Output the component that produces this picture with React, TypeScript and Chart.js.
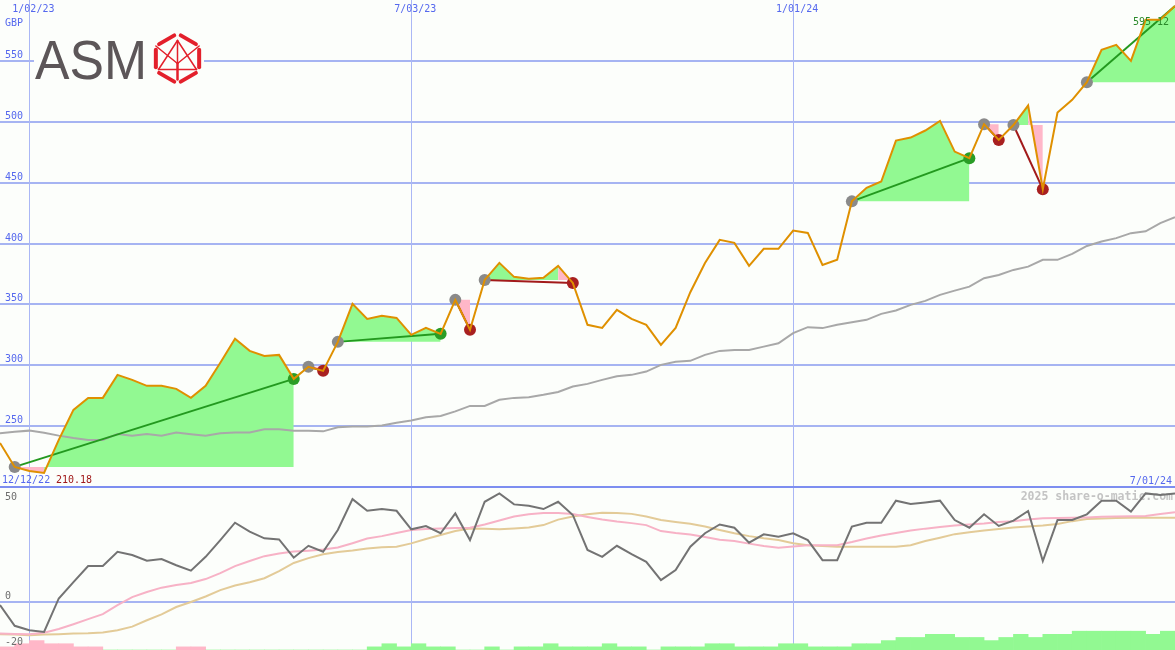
import React, { useEffect, useRef } from 'react';
import { Chart, registerables } from 'chart.js';

Chart.register(...registerables);

// ---------------- data ----------------
const closes = [
  236.2, 216.5, 213.2, 211.6, 238.7, 263.3, 273.2, 273.2, 292.1, 288.0,
  283.1, 283.1, 280.6, 273.2, 283.1, 302.0, 321.7, 311.8, 307.7, 308.5,
  288.8, 298.7, 295.4, 319.2, 350.4, 338.1, 340.6, 338.9, 325.0, 330.7,
  325.8, 353.7, 329.1, 370.1, 384.1, 372.6, 371.0, 371.8, 381.6, 367.6,
  333.2, 330.7, 345.5, 338.1, 333.2, 316.7, 330.7, 360.0, 384.0, 403.0,
  400.5, 381.6, 395.6, 395.6, 410.6, 408.7, 382.4, 386.6, 434.6, 445.7,
  450.9, 484.5, 487.0, 492.8, 500.7, 475.5, 470.1, 498.0, 485.1, 497.3,
  513.3, 444.6, 507.5, 518.0, 532.5, 559.0, 563.1, 550.0, 583.7, 583.7, 595.1,
];

const movingAvg = [
  244.2, 245.3, 246.3, 244.5, 242.2, 240.3, 238.7, 238.7, 243.6, 242.2,
  243.6, 242.2, 244.7, 243.4, 242.2, 244.2, 244.7, 244.7, 247.5, 247.5,
  246.3, 246.3, 245.7, 249.0, 249.6, 249.6, 250.6, 252.7, 254.6, 257.2,
  258.4, 262.1, 266.6, 266.6, 271.6, 273.2, 273.8, 275.7, 278.1, 282.5,
  284.7, 288.0, 290.9, 292.1, 294.8, 300.3, 302.8, 303.6, 308.5, 311.8,
  312.6, 312.6, 315.3, 318.1, 326.4, 331.3, 330.5, 333.2, 335.4, 337.3,
  342.2, 345.0, 349.6, 352.9, 357.8, 361.3, 364.6, 371.5, 374.2, 378.3,
  381.0, 386.6, 386.6, 391.5, 398.0, 401.6, 404.4, 408.5, 410.0, 416.7, 421.6,
];

const oscillator = [
  -1.6, -11, -13, -13.8, 1.4, 8.8, 16.1, 16.1, 22.6, 21.1,
  18.5, 19.3, 16.5, 14, 20.3, 27.9, 35.8, 31.7, 28.7, 28.2,
  19.9, 25.3, 22.6, 32.5, 46.5, 41.2, 42, 41.2, 32.8, 34.3,
  31, 40, 27.9, 45.3, 49.1, 44.1, 43.5, 42, 45.3, 39.3,
  23.4, 20.3, 25.3, 21.5, 18, 9.7, 14.3, 24.9, 31, 35,
  33.5, 26.7, 30.5, 29.4, 31, 27.9, 18.8, 18.8, 34, 35.8,
  35.8, 45.8, 44.3, 45, 45.8, 37, 33.5, 39.6, 34.3, 36.7,
  41.1, 18.4, 37, 37, 39.6, 45.8, 45.8, 40.8, 49.1, 48.4, 49.1,
];

const oscAvgFast = [
  -14.5, -14.7, -14.8, -14.2, -12.5, -10.3, -8, -5.7, -1.6, 2,
  4.3, 6.3, 7.5, 8.4, 10.2, 12.9, 16.1, 18.4, 20.6, 21.8,
  22.7, 23.1, 23.6, 24.5, 26.5, 28.6, 29.7, 31.1, 32.5, 32.9,
  33.2, 33.4, 33.5, 35, 36.8, 38.6, 39.6, 40.2, 40.2, 39.7,
  38.4, 37.2, 36.3, 35.6, 34.7, 32, 31.1, 30.4, 29.3, 28.1,
  27.5, 26.3, 25.2, 24.4, 25, 25.6, 25.6, 25.6, 27, 28.6,
  30, 31.1, 32.2, 33.1, 33.8, 34.5, 35, 35.4, 36.1, 36.5,
  37.2, 37.8, 37.9, 38, 38.2, 38.5, 38.6, 38.7, 38.8, 39.7, 40.5,
];

const oscAvgSlow = [
  -14.8, -15, -15.3, -15, -14.8, -14.5, -14.4, -14.1, -13, -11.4,
  -8.5, -5.8, -2.5, -0.2, 2.3, 5.2, 7.3, 8.8, 10.6, 13.8,
  17.5, 19.7, 21.5, 22.5, 23.2, 24.1, 24.6, 24.9, 26.4, 28.4,
  30.2, 32, 33.2, 33, 32.8, 33.2, 33.6, 34.7, 37.2, 38.6,
  39.6, 40.3, 40.2, 39.8, 38.6, 37, 36.1, 35.3, 34.1, 32.5,
  31, 29.7, 28.7, 27.9, 26.5, 25.6, 25.2, 24.9, 24.9, 24.9,
  24.9, 24.9, 25.6, 27.5, 29, 30.6, 31.5, 32.2, 32.9, 33.6,
  34.1, 34.5, 35.2, 36.5, 37.5, 37.7, 37.9, 38, 38, 38, 38,
];

// weekly histogram (negative = pink, positive = green)
const histogram = [
  -1, -2, -3, -2, -2, -1, -1, 0, 0, 0,
  0, 0, -1, -1, 0, 0, 0, 0, 0, 0,
  0, 0, 0, 0, 0, 1, 2, 1, 2, 1,
  1, 0, 0, 1, 0, 1, 1, 2, 1, 1,
  1, 2, 1, 1, 0, 1, 1, 1, 2, 2,
  1, 1, 1, 2, 2, 1, 1, 1, 2, 2,
  3, 4, 4, 5, 5, 4, 4, 3, 4, 5,
  4, 5, 5, 6, 6, 6, 6, 6, 5, 6,
];

const tradeStarts = [1, 21, 23, 31, 33, 58, 67, 69, 74];
const tradeEnds = [20, 22, 30, 32, 39, 66, 68, 71, 80];
const tradeOpen = [false, false, false, false, false, false, false, false, true];

const xTickIndex = [2, 28, 54];
const xTickLabels = ['1/02/23', '7/03/23', '1/01/24'];
const priceTicks = [250, 300, 350, 400, 450, 500, 550];
const oscTicks = [50, 0, -20];
const oscGridValues = [0];
const currencyLabel = 'GBP';
const lowDateLabel = '12/12/22';
const lowValueLabel = '210.18';
const endDateLabel = '7/01/24';
const highValueLabel = '595.12';
const watermark = '2025 share-o-matic.com';

// ---------------- styles ----------------
const W = 1175;
const H_TOP = 487;
const H_BOT = 163;
const BG = '#fcfefb';
const GRID_H = '#a6b4f2';
const GRID_V = '#aab7f5';
const SEP = '#7d8ef0';
const BLUE_TEXT = '#5568ee';
const ORANGE = '#df9000';
const MA_GRAY = '#a8a8a8';
const GREEN_FILL = '#92f992';
const PINK_FILL = '#ffb7c8';
const GREEN_LINE = '#23991f';
const RED_LINE = '#a21a1a';
const MONO = '"DejaVu Sans Mono", monospace';

const pts = (arr: number[]) => arr.map((v, i) => ({ x: i, y: v }));

function buildFillDatasets() {
  const out: any[] = [];
  tradeStarts.forEach((s, t) => {
    const e = tradeEnds[t];
    const base = closes[s];
    const push = (a: number, b: number, color: string) => {
      const data = [];
      for (let i = a; i <= b; i++) data.push({ x: i, y: closes[i] });
      out.push({
        type: 'line',
        data,
        borderColor: 'rgba(0,0,0,0)',
        borderWidth: 0,
        pointRadius: 0,
        backgroundColor: color,
        fill: { value: base },
        order: 5,
      });
    };
    let runStart = s;
    let runColor: string | null = null;
    for (let k = s; k < e; k++) {
      const c = closes[k + 1] >= base ? GREEN_FILL : PINK_FILL;
      if (runColor === null) {
        runColor = c;
        runStart = k;
      } else if (c !== runColor) {
        push(runStart, k, runColor);
        runStart = k;
        runColor = c;
      }
    }
    if (runColor) push(runStart, e, runColor);
  });
  return out;
}

function buildTrendDatasets() {
  return tradeStarts.map((s, t) => {
    const e = tradeEnds[t];
    const win = closes[e] >= closes[s];
    return {
      type: 'line',
      data: [{ x: s, y: closes[s] }, { x: e, y: closes[e] }],
      borderColor: win ? GREEN_LINE : RED_LINE,
      borderWidth: 2,
      pointRadius: 0,
      fill: false,
      order: 3,
    };
  });
}

function buildMarkerDatasets() {
  const starts = tradeStarts.map((s) => ({ x: s, y: closes[s] }));
  const wins: any[] = [];
  const losses: any[] = [];
  tradeStarts.forEach((s, t) => {
    if (tradeOpen[t]) return;
    const e = tradeEnds[t];
    const p = { x: e, y: closes[e] };
    if (closes[e] >= closes[s]) wins.push(p);
    else losses.push(p);
  });
  const mk = (data: any[], color: string) => ({
    type: 'line',
    data,
    showLine: false,
    pointRadius: 6,
    pointBackgroundColor: color,
    pointBorderWidth: 0,
    borderColor: color,
    order: 2,
  });
  return [mk(starts, '#8a8a8a'), mk(wins, '#2a9d26'), mk(losses, '#a82020')];
}

function drawLogo(ctx: CanvasRenderingContext2D) {
  ctx.save();
  ctx.fillStyle = BG;
  ctx.fillRect(34, 30, 170, 58);
  ctx.font = '56px "Liberation Sans", Arial, sans-serif';
  ctx.textBaseline = 'alphabetic';
  const w = ctx.measureText('ASM').width;
  ctx.translate(35, 79);
  ctx.scale(112 / w, 1);
  ctx.fillStyle = '#5c5658';
  ctx.fillText('ASM', 0, 0);
  ctx.restore();

  ctx.save();
  const cx = 177.5, cy = 58.5, R = 25;
  const v: number[][] = [];
  for (let k = 0; k < 6; k++) {
    const a = ((-90 + 60 * k) * Math.PI) / 180;
    v.push([cx + R * Math.cos(a), cy + R * Math.sin(a)]);
  }
  ctx.strokeStyle = '#e3202b';
  ctx.lineCap = 'round';
  ctx.lineWidth = 4;
  for (let k = 0; k < 6; k++) {
    const p = v[k], q = v[(k + 1) % 6];
    ctx.beginPath();
    ctx.moveTo(p[0] + (q[0] - p[0]) * 0.15, p[1] + (q[1] - p[1]) * 0.15);
    ctx.lineTo(p[0] + (q[0] - p[0]) * 0.85, p[1] + (q[1] - p[1]) * 0.85);
    ctx.stroke();
  }
  const T = [cx, cy - 18];
  const BL = [cx - 19, cy + 11];
  const BR = [cx + 19, cy + 11];
  const M = [cx, cy + 5];
  ctx.lineWidth = 1.5;
  const seg = (a: number[], b: number[]) => {
    ctx.beginPath();
    ctx.moveTo(a[0], a[1]);
    ctx.lineTo(b[0], b[1]);
    ctx.stroke();
  };
  seg(T, BL);
  seg(T, BR);
  seg(BL, BR);
  seg(v[5], M);
  seg(v[1], M);
  seg(T, M);
  ctx.lineWidth = 2.5;
  seg(M, [cx, cy + 21]);
  ctx.restore();
}

const topDecor = {
  id: 'topDecor',
  beforeDraw(chart: any) {
    const { ctx } = chart;
    ctx.save();
    ctx.fillStyle = BG;
    ctx.fillRect(0, 0, chart.width, chart.height);
    ctx.restore();
  },
  beforeDatasetsDraw(chart: any) {
    const { ctx } = chart;
    const x = chart.scales.x;
    const y = chart.scales.y;
    ctx.save();
    ctx.fillStyle = GRID_H;
    priceTicks.forEach((val) => {
      const py = Math.round(y.getPixelForValue(val));
      ctx.fillRect(0, py - 1, chart.width, 2);
    });
    ctx.fillStyle = GRID_V;
    xTickIndex.forEach((i) => {
      const px = Math.round(x.getPixelForValue(i));
      ctx.fillRect(px, 0, 1, chart.height);
    });
    ctx.fillStyle = SEP;
    ctx.fillRect(0, chart.height - 1, chart.width, 1);
    drawLogo(ctx);
    ctx.restore();
  },
  afterDatasetsDraw(chart: any) {
    const { ctx } = chart;
    const x = chart.scales.x;
    const y = chart.scales.y;
    ctx.save();
    ctx.font = '10px ' + MONO;
    ctx.textBaseline = 'alphabetic';
    ctx.fillStyle = BLUE_TEXT;
    ctx.textAlign = 'left';
    ctx.fillText(currencyLabel, 5, 26);
    priceTicks.forEach((val) => {
      const py = Math.round(y.getPixelForValue(val));
      ctx.fillText(String(val), 5, py - 3);
    });
    ctx.textAlign = 'center';
    xTickIndex.forEach((i, k) => {
      const px = x.getPixelForValue(i);
      ctx.fillText(xTickLabels[k], px + 4, 12);
    });
    ctx.textAlign = 'left';
    ctx.fillText(lowDateLabel, 2, 483);
    ctx.fillStyle = '#a01818';
    ctx.fillText(lowValueLabel, 56, 483);
    ctx.fillStyle = BLUE_TEXT;
    ctx.textAlign = 'right';
    ctx.fillText(endDateLabel, 1172, 484);
    ctx.textAlign = 'left';
    ctx.fillStyle = '#2a8a2a';
    ctx.fillText(highValueLabel, 1133, 25);
    ctx.restore();
  },
};

const botDecor = {
  id: 'botDecor',
  beforeDraw(chart: any) {
    const { ctx } = chart;
    ctx.save();
    ctx.fillStyle = BG;
    ctx.fillRect(0, 0, chart.width, chart.height);
    ctx.restore();
  },
  beforeDatasetsDraw(chart: any) {
    const { ctx } = chart;
    const x = chart.scales.x;
    const y = chart.scales.y;
    ctx.save();
    ctx.fillStyle = GRID_H;
    oscGridValues.forEach((val) => {
      const py = Math.round(y.getPixelForValue(val));
      ctx.fillRect(0, py - 1, chart.width, 2);
    });
    ctx.fillStyle = GRID_V;
    xTickIndex.forEach((i) => {
      const px = Math.round(x.getPixelForValue(i));
      ctx.fillRect(px, 0, 1, chart.height);
    });
    ctx.fillStyle = SEP;
    ctx.fillRect(0, 0, chart.width, 1);
    ctx.font = 'bold 11.5px ' + MONO;
    ctx.fillStyle = '#c4c4c4';
    ctx.textAlign = 'right';
    ctx.textBaseline = 'alphabetic';
    ctx.fillText(watermark, 1173, 13);
    ctx.restore();
  },
  afterDatasetsDraw(chart: any) {
    const { ctx } = chart;
    ctx.save();
    ctx.font = '10px ' + MONO;
    ctx.fillStyle = '#6e6e6e';
    ctx.textAlign = 'left';
    ctx.textBaseline = 'alphabetic';
    const labelY = [13, 112, 158];
    oscTicks.forEach((val, k) => {
      ctx.fillText(String(val), 5, labelY[k]);
    });
    ctx.restore();
  },
};

const baseOptions = {
  animation: false,
  responsive: false,
  maintainAspectRatio: false,
  devicePixelRatio: 1,
  events: [],
  layout: { padding: 0, autoPadding: false },
  elements: { line: { tension: 0 } },
  plugins: { legend: { display: false }, tooltip: { enabled: false } },
};

function topConfig(): any {
  return {
    type: 'line',
    data: {
      datasets: [
        {
          data: pts(closes),
          borderColor: ORANGE,
          borderWidth: 2,
          pointRadius: 0,
          fill: false,
          order: 0,
        },
        ...buildMarkerDatasets(),
        ...buildTrendDatasets(),
        {
          data: pts(movingAvg),
          borderColor: MA_GRAY,
          borderWidth: 2,
          pointRadius: 0,
          fill: false,
          order: 4,
        },
        ...buildFillDatasets(),
      ],
    },
    options: {
      ...baseOptions,
      scales: {
        x: { type: 'linear', min: 0, max: 80, display: false, offset: false },
        y: { type: 'linear', min: 200, max: 600, display: false },
      },
    },
    plugins: [topDecor],
  };
}

function botConfig(): any {
  return {
    type: 'line',
    data: {
      datasets: [
        {
          data: pts(oscillator),
          borderColor: '#737373',
          borderWidth: 2,
          pointRadius: 0,
          fill: false,
          order: 0,
        },
        {
          data: pts(oscAvgFast),
          borderColor: '#f7b2c6',
          borderWidth: 2,
          pointRadius: 0,
          fill: false,
          order: 1,
        },
        {
          data: pts(oscAvgSlow),
          borderColor: '#e3cb98',
          borderWidth: 2,
          pointRadius: 0,
          fill: false,
          order: 2,
        },
        {
          type: 'bar',
          yAxisID: 'yv',
          data: histogram.map((v, k) => ({ x: k + 0.5, y: Math.abs(v) })),
          backgroundColor: histogram.map((v) => (v < 0 ? PINK_FILL : GREEN_FILL)),
          borderWidth: 0,
          barPercentage: 1,
          categoryPercentage: 1,
          order: 3,
        },
      ],
    },
    options: {
      ...baseOptions,
      scales: {
        x: { type: 'linear', min: 0, max: 80, display: false, offset: false },
        y: { type: 'linear', min: -22, max: 52, display: false },
        yv: { type: 'linear', min: 0, max: 52, display: false },
      },
    },
    plugins: [botDecor],
  };
}

export default function App() {
  const topRef = useRef<HTMLCanvasElement>(null);
  const botRef = useRef<HTMLCanvasElement>(null);
  useEffect(() => {
    const top = new Chart(topRef.current as HTMLCanvasElement, topConfig());
    const bot = new Chart(botRef.current as HTMLCanvasElement, botConfig());
    return () => {
      top.destroy();
      bot.destroy();
    };
  }, []);
  return (
    <div style={{ position: 'absolute', left: 0, top: 0, width: W, height: H_TOP + H_BOT, background: BG }}>
      <canvas ref={topRef} width={W} height={H_TOP} style={{ display: 'block', width: W, height: H_TOP }} />
      <canvas ref={botRef} width={W} height={H_BOT} style={{ display: 'block', width: W, height: H_BOT }} />
    </div>
  );
}
